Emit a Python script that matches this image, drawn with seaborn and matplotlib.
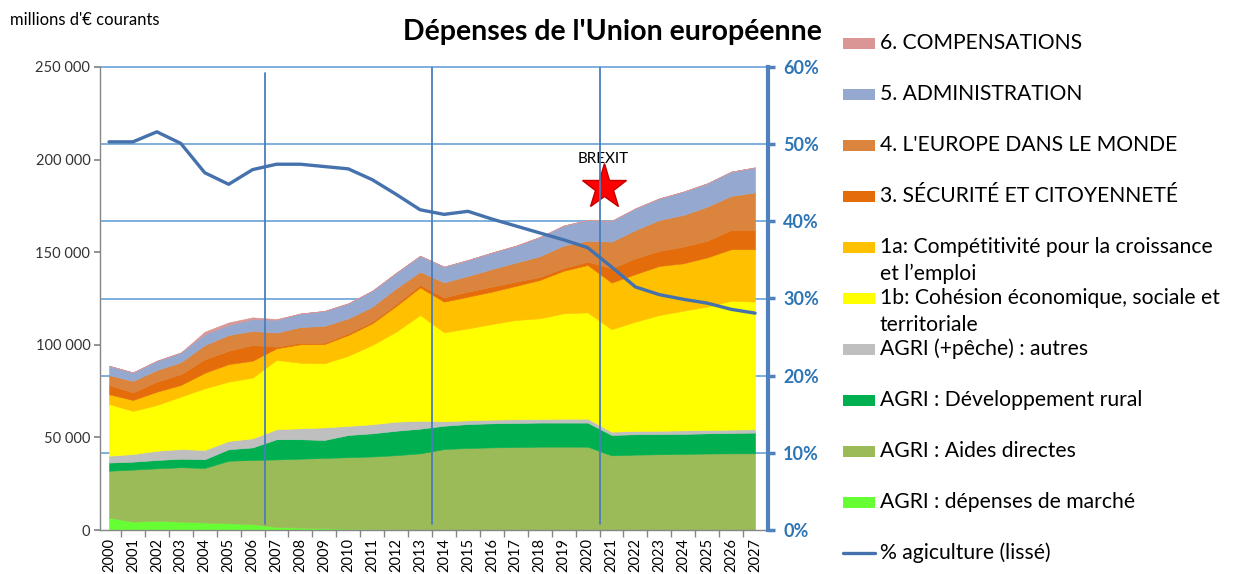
import numpy as np
import pandas as pd
import matplotlib
matplotlib.use("Agg")
import matplotlib.pyplot as plt
import seaborn as sns
from matplotlib.patches import Rectangle
from matplotlib.lines import Line2D

# ---------------- data ----------------
years = list(range(2000, 2028))

marche = [6700, 4500, 4900, 4500, 4000, 3600, 3100, 1600, 1300, 900, 700, 500, 400, 200,
          0, 0, 0, 0, 0, 0, 0, 0, 0, 0, 0, 0, 0, 0]
directes = [25300, 28100, 28400, 29400, 29500, 33800, 34700, 36500, 37200, 38000, 38600, 39200, 40000, 41200,
            43700, 44300, 44600, 44800, 45000, 45000, 45000, 40300, 40700, 40900, 41100, 41300, 41400, 41400]
rural = [4400, 4300, 4500, 4600, 4700, 6200, 6800, 10900, 10500, 9700, 12000, 12500, 13200, 13300,
         12600, 12900, 13000, 13000, 13000, 13000, 13000, 11000, 11000, 10900, 10800, 10900, 11000, 11200]
agri_autres = [3700, 4100, 5000, 5200, 5000, 4500, 4900, 5400, 5900, 6800, 4900, 4900, 4900, 4300,
               2400, 2000, 2000, 2000, 1900, 2100, 2100, 1800, 1800, 1800, 1900, 1800, 1800, 1800]
cohesion_1b = [27900, 23300, 24700, 28300, 33300, 32000, 32800, 37400, 35400, 34600, 37900, 42800, 48600, 57100,
               48000, 49700, 51600, 53600, 54400, 56900, 57400, 55300, 59000, 62500, 64600, 66600, 69600, 68900]
compet_1a = [5300, 5900, 7200, 6300, 8400, 9500, 9100, 6300, 10000, 10400, 11200, 11700, 13900, 14900,
             16600, 17100, 17500, 18400, 20700, 23000, 25600, 25200, 25700, 26500, 25600, 26600, 27800, 28300]
securite = [5000, 4100, 5400, 5800, 7300, 7200, 8500, 900, 800, 700, 900, 900, 1000, 1300,
            2300, 2700, 2700, 2300, 1600, 1500, 1800, 7700, 8500, 8100, 9000, 9000, 10400, 10400]
monde = [5400, 6200, 6300, 6500, 7700, 8500, 7600, 7600, 8500, 9100, 8100, 8100, 8500, 7200,
         8100, 8500, 9500, 10300, 11200, 12100, 11300, 14400, 15300, 16700, 17100, 18400, 18400, 20300]
admin = [5000, 4600, 5000, 5200, 5800, 5500, 6300, 6900, 7300, 8100, 8100, 8600, 8400, 8600,
         8500, 8600, 8900, 9100, 10400, 10800, 11200, 11200, 11700, 11700, 12600, 12600, 13100, 13500]
compensations = [0, 0, 0, 0, 1400, 1300, 1000, 400, 0, 0, 0, 0, 0, 0,
                 0, 0, 0, 0, 0, 0, 0, 0, 0, 0, 0, 0, 0, 0]
pct_agri = [50.3, 50.3, 51.6, 50.1, 46.3, 44.8, 46.7, 47.4, 47.4, 47.1, 46.8, 45.4, 43.5, 41.5,
            40.9, 41.3, 40.3, 39.4, 38.5, 37.6, 36.6, 34.1, 31.5, 30.5, 29.9, 29.4, 28.6, 28.1]

series_labels = ["AGRI : dépenses de marché", "AGRI : Aides directes", "AGRI : Développement rural",
                 "AGRI (+pêche) : autres", "1b: Cohésion économique, sociale et territoriale",
                 "1a: Compétitivité pour la croissance et l’emploi", "3. SÉCURITÉ ET CITOYENNETÉ",
                 "4. L'EUROPE DANS LE MONDE", "5. ADMINISTRATION", "6. COMPENSATIONS"]
series_values = [marche, directes, rural, agri_autres, cohesion_1b, compet_1a, securite, monde, admin,
                 compensations]
series_colors = ["#66FF33", "#9BBB59", "#00B050", "#BFBFBF", "#FFFF00", "#FFC000", "#E46C0A",
                 "#DB843D", "#95A9D0", "#D99694"]
line_label = "% agiculture (lissé)"
line_color = "#4572AC"

period_breaks = [6.5, 13.5, 20.5]
period_tops = [0.987, 1.0, 1.0]
brexit_x = 20.67
brexit_star_y = 185000
brexit_text_y = 200500

# ---------------- style ----------------
sns.set_theme(style="white")
plt.rcParams["font.family"] = ["Lato", "DejaVu Sans"]

W, H = 1241, 574
fig = plt.figure(figsize=(W / 100, H / 100), dpi=100)
left_px, right_px, top_px, bottom_px = 100, 768, 67, 530
ax = fig.add_axes([left_px / W, 1 - bottom_px / H, (right_px - left_px) / W, (bottom_px - top_px) / H])

x = np.arange(len(years))
polys = ax.stackplot(x, *series_values, colors=series_colors, linewidth=0.4, zorder=2)
for p, c in zip(polys, series_colors):
    p.set_edgecolor(c)

ax.set_xlim(-0.376, 27.54)
ax.set_ylim(0, 250000)
ax.set_yticks(np.arange(0, 250001, 50000))
ax.set_yticklabels([f"{int(v):,}".replace(",", " ") for v in np.arange(0, 250001, 50000)],
                   fontsize=10.5, color="#333333")
# horizontal gridlines of the % axis, drawn behind the areas
ax.set_yticks([k * 250000 / 6 for k in range(1, 6)], minor=True)
ax.grid(which="minor", axis="y", color="#5B9BD5", linewidth=1.1)
ax.grid(which="major", visible=False)
ax.axhline(250000, color="#5B9BD5", linewidth=1.1, clip_on=False, zorder=1)
ax.set_axisbelow(True)
ax.tick_params(axis="y", which="minor", length=0)
ax.tick_params(axis="y", which="major", length=4, color="#868686", direction="out", left=True, pad=3)

ax.set_xticks(x)
ax.set_xticklabels([str(y) for y in years], rotation=90, fontsize=10.5, color="black")
ax.set_xticks(x[:-1] + 0.5, minor=True)
ax.tick_params(axis="x", which="major", length=0, pad=6)
ax.tick_params(axis="x", which="minor", length=5, color="#868686", direction="out", bottom=True)
for s in ["top", "right"]:
    ax.spines[s].set_visible(False)
ax.spines["left"].set_color("#868686")
ax.spines["bottom"].set_color("#868686")
ax.spines["left"].set_linewidth(1)
ax.spines["bottom"].set_linewidth(1)

# Brexit marker
ax.plot([brexit_x], [brexit_star_y], marker="*", markersize=34, color="#FF0000",
        markeredgecolor="#C00000", markeredgewidth=1, zorder=6, linestyle="none")
ax.text(brexit_x, brexit_text_y, "BREXIT", ha="center", va="center", fontsize=11, color="black", zorder=6)

# right axis: percentage of agriculture
ax2 = ax.twinx()
ax2.set_ylim(0, 60)
df = pd.DataFrame({"x": x, "pct": pct_agri})
sns.lineplot(data=df, x="x", y="pct", ax=ax2, color=line_color, linewidth=2.4, zorder=5)
for b, t in zip(period_breaks, period_tops):
    ax2.axvline(b, ymin=0.013, ymax=t, color="#4A7EBB", linewidth=1.3, zorder=4)
ax2.set_yticks(np.arange(0, 61, 10))
ax2.set_yticklabels([f"{v}%" for v in range(0, 61, 10)], fontsize=13, color="#2E75B6",
                    fontweight="bold")
ax2.tick_params(axis="y", length=5, width=2.5, color="#4F81BD", direction="out", right=True, pad=6)
ax2.set_xlabel("")
ax2.set_ylabel("")
ax.set_xlabel("")
ax.set_ylabel("")
for s in ["top", "left", "bottom"]:
    ax2.spines[s].set_visible(False)
ax2.spines["right"].set_color("#4F81BD")
ax2.spines["right"].set_linewidth(3)
ax2.grid(False)
ax2.set_xlim(ax.get_xlim())

# titles
fig.text(612 / W, 1 - 32 / H, "Dépenses de l'Union européenne", ha="center", va="center",
         fontsize=20.5, fontweight="bold", color="black")
fig.text(10 / W, 1 - 20 / H, "millions d'€ courants", ha="left", va="center", fontsize=12,
         color="black")

# legend (manual, right side)
legend_entries = [
    (["6. COMPENSATIONS"], series_colors[9], "patch"),
    (["5. ADMINISTRATION"], series_colors[8], "patch"),
    (["4. L'EUROPE DANS LE MONDE"], series_colors[7], "patch"),
    (["3. SÉCURITÉ ET CITOYENNETÉ"], series_colors[6], "patch"),
    (["1a: Compétitivité pour la croissance", "et l’emploi"], series_colors[5], "patch"),
    (["1b: Cohésion économique, sociale et", "territoriale"], series_colors[4], "patch"),
    (["AGRI (+pêche) : autres"], series_colors[3], "patch"),
    (["AGRI : Développement rural"], series_colors[2], "patch"),
    (["AGRI : Aides directes"], series_colors[1], "patch"),
    (["AGRI : dépenses de marché"], series_colors[0], "patch"),
    ([line_label], line_color, "line"),
]
for i, (lines, color, kind) in enumerate(legend_entries):
    yc = 43 + 51 * i
    if kind == "patch":
        fig.patches.append(Rectangle((843 / W, 1 - (yc + 5.5) / H), 32 / W, 11 / H,
                                     transform=fig.transFigure, facecolor=color, edgecolor="none"))
    else:
        fig.lines.append(Line2D([843 / W, 875 / W], [1 - yc / H, 1 - yc / H], transform=fig.transFigure,
                                color=color, linewidth=2.4))
    for j, txt in enumerate(lines):
        fig.text(880 / W, 1 - (yc + 27 * j) / H, txt, ha="left", va="center", fontsize=15.2, color="black")

fig.savefig("out.png", dpi=100)
